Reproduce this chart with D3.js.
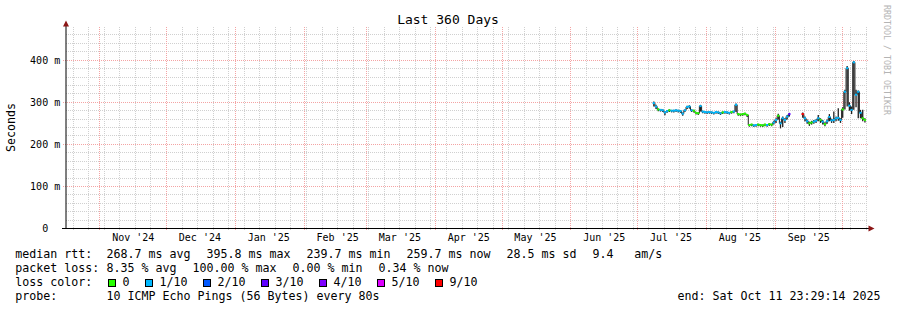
<!DOCTYPE html>
<html lang="en">
<head>
<meta charset="UTF-8"/>
<title>Last 360 Days</title>
<script src="https://d3js.org/d3.v7.min.js"></script>
<style>
  body { margin: 0; background: #fff; }
  svg { display: block; }
  text { font-family: "DejaVu Sans Mono", monospace; white-space: pre; fill: #000; }
  .minor { stroke: #d0d0d0; stroke-dasharray: 1,1; shape-rendering: crispEdges; }
  .major { stroke: #f4a4a4; stroke-dasharray: 1,1; shape-rendering: crispEdges; }
</style>
</head>
<body>
<script>
// time span of the graph (360 days)
const startTime = new Date(Date.UTC(2024, 9, 16, 23, 29, 14))
const endTime   = new Date(Date.UTC(2025, 9, 11, 23, 29, 14))
const firstDay  = new Date(Date.UTC(2025, 6, 8))   // first day with data

const monthLabels = ["Nov '24", "Dec '24", "Jan '25", "Feb '25", "Mar '25", "Apr '25",
                     "May '25", "Jun '25", "Jul '25", "Aug '25", "Sep '25"]
const yTicks = [0, 100, 200, 300, 400]
const yTickLabels = ["0\u00a0\u00a0", "100 m", "200 m", "300 m", "400 m"]

// daily median rtt in ms (null = no data)
const medianMs = [
  298, 290, 283, 282, 281, 276, 279, 281, 280, 280,
  281, 280, 279, 273, 281, 289, 290, 281, 280, 275,
  274, 291, 278, 277, 276, 277, 276, 275, 277, 276,
  274, 276, 277, 276, 275, 277, 278, 294, 272, 271,
  272, 273, 270, 246, 247, 245, 246, 247, 246, 245,
  247, 246, 248, 247, 252, 258, 268, 250, 262, 258,
  266, 272, null, null, null, null, null, 272, 262, 255,
  250, 252, 254, 256, 262, 258, 254, 248, 255, 265,
  257, 258, 262, 263, 258, 283, 325, 381, 292, 282,
  395, 318, 325, 275, 262, 258
]
// spread of the pings (smoke), top and bottom, ms
const smokeHiMs = [
  302, 294, 285, 284, 283, 278, 281, 283, 282, 282,
  283, 282, 281, 276, 283, 292, 293, 283, 282, 277,
  276, 294, 280, 279, 278, 279, 278, 277, 279, 278,
  276, 278, 279, 278, 277, 279, 280, 297, 274, 273,
  274, 275, 272, 248, 249, 247, 248, 249, 248, 247,
  249, 248, 250, 249, 256, 262, 273, 254, 266, 262,
  270, 275, null, null, null, null, null, 276, 266, 259,
  254, 256, 258, 260, 270, 262, 258, 252, 259, 272,
  261, 278, 266, 286, 262, 288, 330, 386, 300, 290,
  398, 330, 328, 282, 282, 262
]
const smokeLoMs = [
  290, 284, 279, 278, 277, 269, 275, 277, 276, 276,
  277, 276, 275, 268, 277, 284, 285, 277, 276, 271,
  270, 278, 274, 273, 272, 273, 272, 271, 273, 272,
  270, 272, 273, 272, 271, 273, 274, 277, 268, 267,
  268, 269, 265, 242, 243, 241, 242, 243, 242, 241,
  243, 242, 244, 243, 247, 251, 259, 238, 241, 251,
  259, 266, null, null, null, null, null, 263, 255, 249,
  244, 247, 249, 251, 255, 251, 247, 243, 249, 255,
  251, 251, 255, 256, 251, 263, 283, 290, 280, 272,
  282, 288, 262, 262, 255, 252
]
// pings lost out of 10, per day
const lossOf10 = [
  1, 1, 0, 1, 1, 1, 1, 0, 1, 1,
  1, 1, 1, 1, 1, 1, 1, 1, 0, 0,
  0, 1, 1, 1, 1, 1, 1, 1, 1, 1,
  1, 0, 1, 1, 1, 0, 1, 1, 0, 0,
  0, 0, 0, 0, 0, 1, 1, 0, 0, 0,
  0, 1, 0, 0, 1, 1, 0, 1, 1, 1,
  1, 3, null, null, null, null, null, 9, 1, 1,
  0, 0, 1, 1, 1, 0, 1, 0, 1, 1,
  1, 1, 1, 1, 1, 0, 1, 1, 1, 1,
  1, 1, 1, 1, 0, 0
]

const lossLabels = ["0", "1/10", "2/10", "3/10", "4/10", "5/10", "9/10"]
const lossLevels = [0, 1, 2, 3, 4, 5, 9]
const lossColors = ["#26ff00", "#00b8ff", "#0059ff", "#5e00ff", "#7e00ff", "#dd00ff", "#ff0000"]

const medianStats = [["median rtt:", 16], ["268.7 ms avg", 107.3], ["395.8 ms max", 207.3],
  ["239.7 ms min", 307.3], ["259.7 ms now", 407.3], ["28.5 ms sd", 507.3], ["9.4", 593.3], ["am/s", 635]]
const lossStats = [["packet loss:", 16], ["8.35 % avg", 107.3], ["100.00 % max", 193.3],
  ["0.00 % min", 293.3], ["0.34 % now", 379.3]]
const probeText = "10 ICMP Echo Pings (56 Bytes) every 80s"
const endText = "end: Sat Oct 11 23:29:14 2025"

const W = 897, H = 310
const plotLeft = 66, plotRight = 866, plotTop = 27, plotBottom = 228.5

const x = d3.scaleUtc().domain([startTime, endTime]).range([plotLeft, plotRight])
const y = d3.scaleLinear().domain([0, 479]).range([plotBottom, plotTop])

const svg = d3.select("body").append("svg")
    .attr("width", W)
    .attr("height", H)

svg.append("rect").attr("width", W).attr("height", H).attr("fill", "#fff")

// title
svg.append("text")
    .attr("x", 448).attr("y", 24)
    .attr("text-anchor", "middle")
    .style("font-size", "13px")
    .text("Last 360 Days")

// grid
const weeks = d3.utcSunday.range(startTime, d3.utcDay.offset(endTime, 2)).filter(d => x(d) <= 868)
const months = d3.utcMonth.range(startTime, endTime)
const px = v => Math.round(v) + 0.5

const grid = svg.append("g")
grid.selectAll(".hmin")
  .data(d3.range(20, 479, 20).filter(v => v % 100 !== 0))
  .join("line").attr("class", "minor")
    .attr("x1", plotLeft).attr("x2", 868)
    .attr("y1", d => px(y(d) - 0.5)).attr("y2", d => px(y(d) - 0.5))
grid.selectAll(".vmin")
  .data(weeks)
  .join("line").attr("class", "minor")
    .attr("x1", d => px(x(d))).attr("x2", d => px(x(d)))
    .attr("y1", plotTop).attr("y2", 231)
grid.selectAll(".hmaj")
  .data(yTicks.filter(v => v > 0))
  .join("line").attr("class", "major")
    .attr("x1", 63).attr("x2", 868)
    .attr("y1", d => px(y(d) - 0.5)).attr("y2", d => px(y(d) - 0.5))
grid.selectAll(".vmaj")
  .data(months)
  .join("line").attr("class", "major")
    .attr("x1", d => px(x(d))).attr("x2", d => px(x(d)))
    .attr("y1", plotTop).attr("y2", 231)

// axis tick labels through d3 axes
const midMonths = months.map(d => d3.utcDay.offset(d, 15)).filter(d => d < endTime)
const xAxis = svg.append("g")
    .attr("transform", `translate(0, ${plotBottom})`)
    .call(d3.axisBottom(x).tickValues(midMonths).tickFormat((d, i) => monthLabels[i])
      .tickSize(0).tickPadding(5.8))
xAxis.select(".domain").remove()
xAxis.selectAll("text").style("font-size", "10px").attr("font-family", null)

const yAxis = svg.append("g")
    .attr("transform", `translate(${plotLeft}, 0)`)
    .call(d3.axisLeft(y).tickValues(yTicks).tickFormat((d, i) => yTickLabels[i])
      .tickSize(0).tickPadding(5.8))
yAxis.select(".domain").remove()
yAxis.selectAll("text").style("font-size", "10px").attr("font-family", null)

// data
const days = medianMs.map((m, i) => ({
  t: d3.utcDay.offset(firstDay, i),
  t1: d3.utcDay.offset(firstDay, i + 1),
  med: m, hi: smokeHiMs[i], lo: smokeLoMs[i], loss: lossOf10[i]
}))
const valid = days.filter(d => d.med !== null)
const colorOf = loss => {
  let k = 0
  lossLevels.forEach((lv, j) => { if (loss >= lv) k = j })
  return lossColors[k]
}

const series = svg.append("g")
series.selectAll(".smoke")
  .data(valid)
  .join("line")
    .attr("x1", d => (x(d.t) + x(d.t1)) / 2).attr("x2", d => (x(d.t) + x(d.t1)) / 2)
    .attr("y1", d => y(d.hi)).attr("y2", d => y(d.lo))
    .attr("stroke", "#202020").attr("stroke-width", 1.3)

series.append("path")
    .datum(days)
    .attr("fill", "none")
    .attr("stroke", "#202020")
    .attr("stroke-width", 1)
    .attr("d", d3.line().defined(d => d.med !== null).curve(d3.curveStepAfter)
      .x(d => x(d.t)).y(d => y(d.med)))

series.selectAll(".med")
  .data(valid)
  .join("line")
    .attr("x1", d => x(d.t)).attr("x2", d => x(d.t1))
    .attr("y1", d => y(d.med)).attr("y2", d => y(d.med))
    .attr("stroke", d => colorOf(d.loss)).attr("stroke-width", 2)

// axes lines and arrows
svg.append("line").attr("x1", plotLeft).attr("x2", plotLeft).attr("y1", plotBottom).attr("y2", 24)
    .attr("stroke", "#000").attr("stroke-width", 1)
svg.append("line").attr("x1", 62).attr("x2", 869).attr("y1", plotBottom).attr("y2", plotBottom)
    .attr("stroke", "#000").attr("stroke-width", 1).attr("shape-rendering", "crispEdges")
svg.append("path").attr("d", "M66,20.5L63,26.5L69,26.5Z").attr("fill", "#8c1616")
svg.append("path").attr("d", "M874.5,228.5L868.5,225.5L868.5,231.5Z").attr("fill", "#8c1616")

// side labels
svg.append("text")
    .attr("transform", "translate(15, 127.5) rotate(-90)")
    .attr("text-anchor", "middle")
    .style("font-size", "11.63px")
    .text("Seconds")
svg.append("text")
    .attr("transform", "translate(884, 5) rotate(90)")
    .style("font-size", "8.3px")
    .style("fill", "#b4b4b4")
    .text("RRDTOOL / TOBI OETIKER")

// legend
const legend = svg.append("g").style("font-size", "11.63px")
const rows = [257.8, 271.8, 285.8, 299.8]
legend.selectAll(".r1").data(medianStats).join("text")
    .attr("x", d => d[1] - 0.8).attr("y", rows[0]).text(d => d[0])
legend.selectAll(".r2").data(lossStats).join("text")
    .attr("x", d => d[1] - 0.8).attr("y", rows[1]).text(d => d[0])
legend.append("text").attr("x", 15.2).attr("y", rows[2]).text("loss color:")

let bx = 108.3
lossLabels.forEach((lab, i) => {
  legend.append("rect")
      .attr("x", Math.round(bx) + 0.5).attr("y", 279.5)
      .attr("width", 7).attr("height", 7)
      .attr("fill", lossColors[i]).attr("stroke", "#000")
  legend.append("text").attr("x", bx + 14.2).attr("y", rows[2]).text(lab)
  bx += 15 + lab.length * 7 + 15
})

legend.append("text").attr("x", 15.2).attr("y", rows[3]).text("probe:")
legend.append("text").attr("x", 106.5).attr("y", rows[3]).text(probeText)
legend.append("text").attr("x", 880.5).attr("y", rows[3]).attr("text-anchor", "end").text(endText)
</script>
</body>
</html>
